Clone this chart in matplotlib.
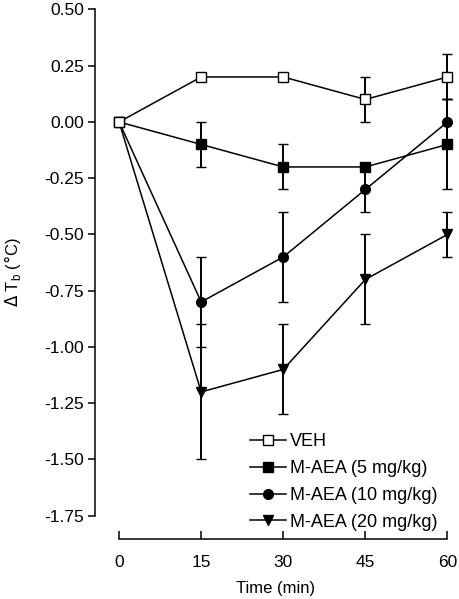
import numpy as np
import matplotlib
matplotlib.use("Agg")
import matplotlib.pyplot as plt
from matplotlib.lines import Line2D

plt.rcParams['font.family'] = ['Liberation Sans', 'DejaVu Sans']

time = [0, 15, 30, 45, 60]
veh = [0.0, 0.2, 0.2, 0.1, 0.2]
veh_err = [np.nan, np.nan, np.nan, 0.1, 0.1]
m5 = [0.0, -0.1, -0.2, -0.2, -0.1]
m5_err = [np.nan, 0.1, 0.1, np.nan, 0.2]
m10 = [0.0, -0.8, -0.6, -0.3, 0.0]
m10_err = [np.nan, 0.2, 0.2, 0.1, 0.1]
m20 = [0.0, -1.2, -1.1, -0.7, -0.5]
m20_err = [np.nan, 0.3, 0.2, 0.2, 0.1]

labels = ["VEH", "M-AEA (5 mg/kg)", "M-AEA (10 mg/kg)", "M-AEA (20 mg/kg)"]
xticks = [0, 15, 30, 45, 60]
yticks = [0.50, 0.25, 0.00, -0.25, -0.50, -0.75, -1.00, -1.25, -1.50, -1.75]

fig = plt.figure(figsize=(4.59, 5.99), dpi=100)
ax = fig.add_axes([0.207, 0.0997, 0.7858, 0.892])

series = [
    (m20, m20_err, 'v', 'black', labels[3]),
    (m10, m10_err, 'o', 'black', labels[2]),
    (m5, m5_err, 's', 'black', labels[1]),
    (veh, veh_err, 's', 'white', labels[0]),
]
handles = {}
for i, (y, e, mk, fc, lab) in enumerate(series):
    ms = 7 if mk != 'v' else 7.5
    ax.errorbar(time, y, yerr=e, fmt='-', marker=mk, color='black',
                mfc=fc, mec='black', ms=ms, mew=1.0,
                lw=1.1, elinewidth=1.4, capsize=3.8, capthick=1.2,
                zorder=3 + i)
    handles[lab] = Line2D([], [], color='black', lw=1.1, marker=mk,
                          mfc=fc, mec='black', ms=ms, mew=1.0)

ax.set_xlim(-4.4, 61.5)
ax.set_ylim(-1.855, 0.52)
for s in ['top', 'right']:
    ax.spines[s].set_visible(False)
ax.spines['left'].set_bounds(-1.75, 0.5)
ax.spines['bottom'].set_bounds(0, 60)
ax.spines['left'].set_linewidth(1.1)
ax.spines['bottom'].set_linewidth(1.1)

ax.set_xticks(xticks)
ax.set_yticks(yticks)
ax.set_yticklabels([f"{v:.2f}" for v in yticks])
ax.tick_params(axis='y', direction='out', length=5, width=1.1, labelsize=12.5, pad=3)
ax.tick_params(axis='x', direction='in', length=6, width=1.1, labelsize=12.5, pad=11.5)

ax.set_xlabel("Time (min)", fontsize=12, labelpad=8)
ax.set_ylabel(r"$\Delta$ T$_\mathregular{b}$ ($\degree$C)", fontsize=12, labelpad=15)

leg = ax.legend([handles[l] for l in labels], labels, loc='upper left',
                bbox_to_anchor=(250 / 459, 1 - 433 / 599), bbox_transform=fig.transFigure,
                frameon=False, fontsize=13, handlelength=2.0, handletextpad=0.2,
                labelspacing=0.55, borderpad=0, borderaxespad=0)

fig.savefig("out.png", dpi=100)
